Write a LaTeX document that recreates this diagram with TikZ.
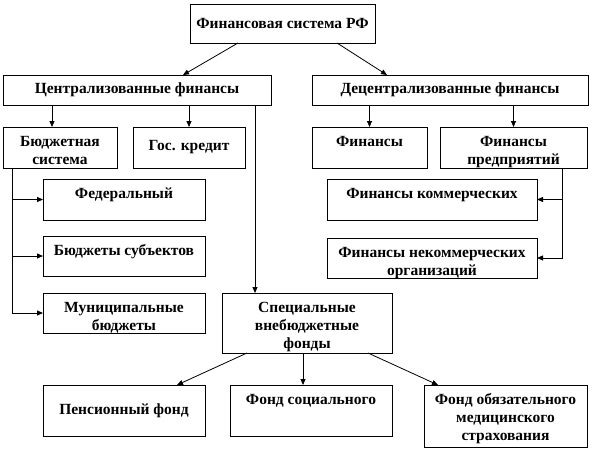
\documentclass[tikz,border=0pt]{standalone}
\usepackage{fontspec}
\setmainfont{Liberation Serif}
\usepackage{tikz}
\usetikzlibrary{positioning,arrows.meta}

\begin{document}
\begin{tikzpicture}[x=1pt,y=-1pt,
    every node/.style={font=\fontsize{15.5}{18}\selectfont\bfseries},
    box/.style={draw,line width=.8pt,inner sep=0pt,outer sep=0pt},
    toptext/.style={path picture={\node[anchor=base,inner sep=0pt]
      at ([yshift=-19.5pt]path picture bounding box.north)
      {\begin{tabular}[t]{@{}c@{}}#1\end{tabular}};}},
    arr/.style={line width=.8pt,-{Triangle[length=6pt,width=5pt]}}]
    \useasboundingbox (0,0) rectangle (606,450);
    \node[box,minimum width=185pt,minimum height=39pt] (FS) at (282.5,23.5) {Финансовая система РФ};
    \node[box,minimum width=268pt,minimum height=30pt] (CF) at (137,90) {Централизованные финансы};
    \node[box,minimum width=276pt,minimum height=30pt] (DF) at (450,90) {Децентрализованные финансы};
    \node[box,toptext={Бюджетная\\система},minimum width=114pt,minimum height=41pt] (BS) at (60,147.5) {};
    \node[box,minimum width=112pt,minimum height=41pt] (GK) at (189,147.5) {Гос. кредит};
    \node[box,toptext={Финансы},minimum width=115pt,minimum height=41pt] (FN) at (369.5,147.5) {};
    \node[box,toptext={Финансы\\предприятий},minimum width=147pt,minimum height=41pt] (FP) at (513.5,147.5) {};
    \node[box,toptext={Федеральный},minimum width=162pt,minimum height=41pt] (FB) at (124,199.5) {};
    \node[box,toptext={Бюджеты субъектов},minimum width=162pt,minimum height=40pt] (SB) at (124,256) {};
    \node[box,toptext={Муниципальные\\бюджеты},minimum width=162pt,minimum height=40pt] (MB) at (124,313) {};
    \node[box,toptext={Финансы коммерческих},minimum width=210pt,minimum height=41pt] (KO) at (432,199.5) {};
    \node[box,toptext={Финансы некоммерческих\\организаций},minimum width=210pt,minimum height=40pt] (NO) at (432,258) {};
    \node[box,toptext={Специальные\\внебюджетные\\фонды},minimum width=170pt,minimum height=60pt] (VF) at (307,323) {};
    \node[box,minimum width=162pt,minimum height=51pt] (PF) at (124,410.5) {Пенсионный фонд};
    \node[box,toptext={Фонд социального},minimum width=162pt,minimum height=51pt] (SF) at (311,410.5) {};
    \node[box,toptext={Фонд обязательного\\медицинского\\страхования},minimum width=163pt,minimum height=62pt] (OM) at (505.5,416) {};
    \coordinate (BL) at ([xshift=-48pt]BS.south);
    \coordinate (PR) at ([xshift=48.5pt]FP.south);
    \draw[arr] ([xshift=-44.5pt]FS.south) -- ([xshift=46pt]CF.north);
    \draw[arr] ([xshift=54.5pt]FS.south) -- ([xshift=-63pt]DF.north);
    \draw[arr] ([xshift=-8pt]BS.north |- CF.south) -- ([xshift=-8pt]BS.north);
    \draw[arr] (GK.north |- CF.south) -- (GK.north);
    \draw[arr] ([xshift=-52pt]VF.north |- CF.south) -- ([xshift=-52pt]VF.north);
    \draw[arr] (FN.north |- DF.south) -- (FN.north);
    \draw[arr] (FP.north |- DF.south) -- (FP.north);
    \draw[arr] (BL) |- (FB.west);
    \draw[arr] (BL) |- (SB.west);
    \draw[arr] (BL) |- (MB.west);
    \draw[arr] (PR) |- (KO.east);
    \draw[arr] (PR) |- (NO.east);
    \draw[arr] ([xshift=-60pt]VF.south) -- ([xshift=53pt]PF.north);
    \draw[arr] ([xshift=-8pt]SF.north |- VF.south) -- ([xshift=-8pt]SF.north);
    \draw[arr] ([xshift=61pt]VF.south) -- ([xshift=-67.5pt]OM.north);
\end{tikzpicture}
\end{document}
